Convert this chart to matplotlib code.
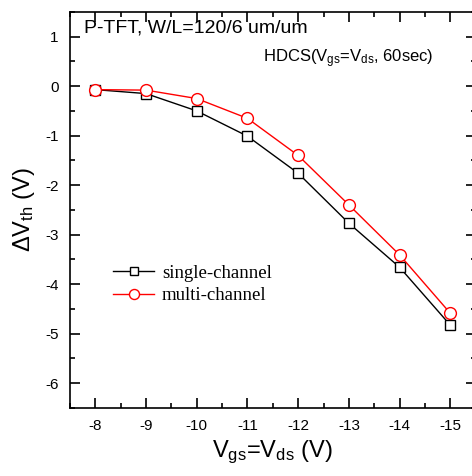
import numpy as np
import matplotlib
matplotlib.use('Agg')
import matplotlib.pyplot as plt
from matplotlib.ticker import MultipleLocator

plt.rcParams['font.family'] = ['Liberation Sans', 'DejaVu Sans']
plt.rcParams['mathtext.fontset'] = 'custom'
plt.rcParams['mathtext.rm'] = 'Liberation Sans'
plt.rcParams['mathtext.it'] = 'Liberation Sans'
plt.rcParams['axes.unicode_minus'] = False

vgs = [-8, -9, -10, -11, -12, -13, -14, -15]
single = [-0.07, -0.15, -0.50, -1.01, -1.76, -2.77, -3.66, -4.83]
multi = [-0.07, -0.08, -0.25, -0.65, -1.40, -2.40, -3.41, -4.59]

fig = plt.figure(figsize=(4.72, 4.76), dpi=100)
ax = fig.add_axes([0.148, 0.143, 0.86, 0.832])

ax.plot(vgs, single, color='black', lw=1, marker='s', ms=7,
        mfc='white', mec='black', mew=1, label='single-channel')
ax.plot(vgs, multi, color='red', lw=1, marker='o', ms=8.5,
        mfc='white', mec='red', mew=1, label='multi-channel')

ax.set_xlim(-7.5, -15.5)
ax.set_ylim(-6.5, 1.5)
ax.xaxis.set_major_locator(MultipleLocator(1))
ax.xaxis.set_minor_locator(MultipleLocator(0.5))
ax.yaxis.set_major_locator(MultipleLocator(1))
ax.yaxis.set_minor_locator(MultipleLocator(0.5))
ax.tick_params(which='both', direction='in', top=True, right=True,
               labelsize=11, width=1.2)
ax.tick_params(which='major', length=7, pad=8)
ax.tick_params(which='minor', length=3.5)
for s in ax.spines.values():
    s.set_linewidth(1.2)

ax.set_xlabel(r'V$_{\rm gs}$=V$_{\rm ds}$ (V)', fontsize=17, labelpad=4)
ax.set_ylabel(r'$\Delta$V$_{\rm th}$ (V)', fontsize=17, labelpad=6)

ax.text(-7.78, 1.17, 'P-TFT, W/L=120/6 um/um', fontsize=14, va='center')
ax.text(-11.3, 0.55, r'HDCS(V$_{\rm gs}$=V$_{\rm ds}$, 60sec)', fontsize=12,
        va='center')

leg = ax.legend(loc='upper left', bbox_to_anchor=(0.065, 0.405), frameon=False,
                prop={'family': 'Liberation Serif', 'size': 13.5},
                handlelength=2.2, handletextpad=0.4, labelspacing=0.3,
                markerscale=0.85)

fig.savefig('out.png', dpi=100)
